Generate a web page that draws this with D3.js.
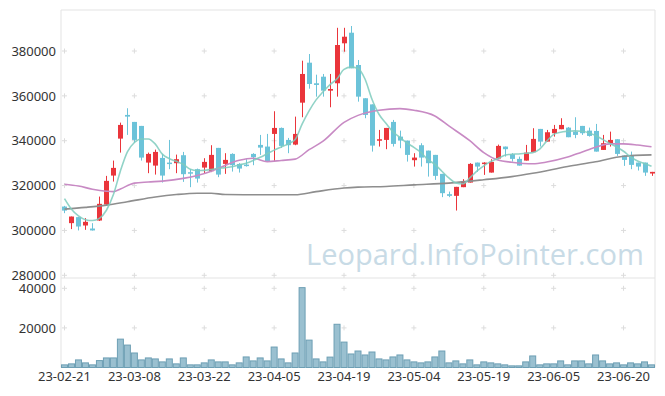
<!DOCTYPE html>
<html>
<head>
<meta charset="utf-8">
<script src="https://cdn.jsdelivr.net/npm/d3@7"></script>
<style>
  body { margin: 0; background: #fff; }
  svg { display: block; }
</style>
</head>
<body>
<div id="chart"></div>
<script>
"use strict";

// trading days (KRX), labels every 10 days
var dates = ["23-02-21","23-02-22","23-02-23","23-02-24","23-02-27","23-02-28","23-03-02","23-03-03","23-03-06","23-03-07",
  "23-03-08","23-03-09","23-03-10","23-03-13","23-03-14","23-03-15","23-03-16","23-03-17","23-03-20","23-03-21",
  "23-03-22","23-03-23","23-03-24","23-03-27","23-03-28","23-03-29","23-03-30","23-03-31","23-04-03","23-04-04",
  "23-04-05","23-04-06","23-04-07","23-04-10","23-04-11","23-04-12","23-04-13","23-04-14","23-04-17","23-04-18",
  "23-04-19","23-04-20","23-04-21","23-04-24","23-04-25","23-04-26","23-04-27","23-04-28","23-05-02","23-05-03",
  "23-05-04","23-05-08","23-05-09","23-05-10","23-05-11","23-05-12","23-05-15","23-05-16","23-05-17","23-05-18",
  "23-05-19","23-05-22","23-05-23","23-05-24","23-05-25","23-05-26","23-05-30","23-05-31","23-06-01","23-06-02",
  "23-06-05","23-06-07","23-06-08","23-06-09","23-06-12","23-06-13","23-06-14","23-06-15","23-06-16","23-06-19",
  "23-06-20","23-06-21","23-06-22","23-06-23","23-06-26"];

var opens  = [310650,303250,305930,302200,300850,304420,311540,324460,340940,351500,
  348380,346600,330250,328910,332340,330250,329980,333540,325970,327310,
  328020,326420,336800,329670,334120,329640,329350,334120,338130,337390,
  343030,345700,340360,338270,356970,374790,365610,368550,362320,365610,
  383430,388150,373760,358930,356200,340060,340360,348380,341830,340060,
  331320,338000,335590,333680,325220,316170,315420,319290,321340,330250,
  329800,325800,332040,337390,334000,331900,331140,334880,345260,339600,
  343340,345120,345840,344050,346600,344500,344360,335900,338890,340660,
  333390,333680,330250,330250,325370];
var highs  = [310950,306200,306000,305480,303250,315100,324320,331140,348070,354480,
  348380,346600,334700,336040,334120,340360,333810,335010,327310,327580,
  332210,338000,336800,334440,334400,330000,331760,334440,342590,343040,
  353140,345900,341250,350740,375680,378660,369440,369760,369760,390340,
  390340,391140,375990,358930,356200,344810,345700,349270,344500,340060,
  334440,338890,335590,333680,325220,317330,319430,322860,330000,330250,
  330400,331760,338270,337390,334440,332920,338130,345570,345260,344810,
  347040,350020,346130,350470,346600,345840,347490,342590,344050,340660,
  333390,335150,330250,330250,326110];
var lows   = [307700,300600,300000,300270,299960,304200,311300,321790,334700,342590,
  339160,331140,325530,324900,321340,327310,325530,321650,319290,321340,
  325530,326000,323750,325220,326240,325800,328470,329090,333680,330870,
  330870,336800,334440,338000,350470,363210,359650,359650,354920,359650,
  379690,372290,357420,350020,335150,337390,336220,337390,336670,330700,
  328470,328470,324000,322550,314840,314840,308870,319290,321340,326110,
  324770,325800,331760,332920,330700,328910,331140,334880,337390,339600,
  341830,345120,341560,341120,342590,341830,335150,335900,337390,333240,
  328780,327310,326710,324330,324330];
var closes = [308850,306200,301750,303840,300000,311860,322100,327890,347040,350740,
  340360,332480,334120,335010,324460,329650,331760,325080,325530,323120,
  330560,333680,324900,331450,329090,327580,328910,332650,336930,330870,
  345700,337690,338000,343030,369760,365300,364860,362320,363070,382670,
  386370,372290,359650,351500,337820,340660,345700,338580,340060,333680,
  332480,332480,329980,324330,316620,315420,319430,321650,329670,328470,
  330250,330560,337690,336220,331900,328910,334700,340810,339600,343780,
  345260,347040,341560,342590,343340,342140,335150,338890,340360,334120,
  331450,329230,328470,325800,326110];
var volumes = [1330,1830,3830,2330,1330,3500,4830,4830,14330,11330,
  7330,3830,4830,4330,2830,4330,1830,4830,1330,1330,
  2330,3830,2830,2830,1330,2330,5330,3330,4830,3330,
  10330,4330,2330,7330,40330,13830,4330,2830,5250,21830,
  12830,6830,8330,6330,7830,4330,3830,5330,6330,3830,
  2830,2330,2830,5330,8330,2330,3330,1830,3830,1330,
  2830,2330,1830,1330,830,830,2830,5830,1330,1830,
  1830,3330,1330,3330,3330,1830,6330,3330,1830,2330,
  1330,2330,1830,2830,1330];

// moving averages: [day index, value]
var maShort = [[0,314200],[1,309500],[2,306500],[3,304800],[4,304400],[5,305400],[6,309000],[7,316000],[8,326500],[9,335000],
  [10,339200],[11,340800],[12,340800],[13,338500],[14,334000],[15,332000],[16,330800],[17,329500],[18,327300],[19,326700],
  [20,326800],[21,327200],[22,327700],[23,328000],[24,328400],[25,329200],[26,330000],[27,331200],[28,332600],[29,334200],
  [30,335800],[31,337200],[32,338600],[33,340500],[34,347400],[35,353300],[36,358200],[37,361800],[38,365000],[39,367600],
  [40,371800],[41,372800],[42,372200],[43,367500],[44,358500],[45,351800],[46,347800],[47,344000],[48,341500],[49,339000],
  [50,337000],[51,334800],[52,331600],[53,329500],[54,326400],[55,323400],[56,321200],[57,320800],[58,323400],[59,326400],
  [60,328800],[61,330700],[62,332000],[63,333500],[64,334000],[65,334100],[66,334400],[67,334700],[68,336300],[69,339800],
  [70,342800],[71,343800],[72,344200],[73,344400],[74,344200],[75,343600],[76,342300],[77,340600],[78,338800],[79,337200],
  [80,335300],[81,332800],[82,331000],[83,329800],[84,328600]];
var maMid = [[0,320600],[2,319800],[4,318400],[6,317500],[7,317300],[8,318500],[10,321100],[12,321600],[14,322000],[17,323200],
  [19,324500],[21,326400],[22,327700],[25,331300],[27,332200],[29,330700],[31,331200],[33,331800],[35,336000],[37,339800],
  [40,348200],[42,351300],[45,353600],[48,354300],[50,353600],[53,351000],[55,346600],[58,340000],[60,334700],[62,331400],
  [64,330400],[67,329700],[69,330500],[72,332700],[74,334900],[76,337100],[78,338600],[80,338600],[82,338100],[84,337300]];
var maLong = [[0,309500],[3,310300],[6,311300],[9,312800],[13,314900],[16,316000],[19,316600],[21,316600],[23,316000],[29,315900],
  [33,315900],[36,317300],[40,318900],[42,319300],[46,319600],[50,320300],[55,321100],[60,322600],[64,324000],[67,325500],
  [72,328500],[76,330600],[80,333100],[84,333700]];

var priceTicks = [280000, 300000, 320000, 340000, 360000, 380000];
var volumeTicks = [20000, 40000];
var dateTicks = dates.filter((d, i) => i % 10 === 0);

var W = 665, H = 396;
var left = 61, right = 655;
var priceTop = 10, priceBottom = 278, volBottom = 367.5;

var svg = d3.select("#chart").append("svg")
    .attr("width", W).attr("height", H)
    .style("font-family", "'Noto Sans', sans-serif");

var x = d3.scaleBand().domain(dates).range([left, right]).padding(0);
var bw = x.bandwidth();
var cx = d => x(d) + bw / 2;
var y = d3.scaleLinear().domain([280000, 380000]).range([275.3, 51]);
var yv = d3.scaleLinear().domain([0, 40000]).range([volBottom, 288.3]);

// frame
var frame = svg.append("g").attr("stroke", "#e3e3e3").attr("fill", "none");
frame.append("path").attr("d", `M${left},${volBottom}V${priceTop}H${right}V${volBottom}`);
frame.append("line").attr("x1", left).attr("x2", right).attr("y1", priceBottom).attr("y2", priceBottom);

// grid crosses
var cross = svg.append("g").attr("stroke", "#dcdcdc").attr("stroke-width", 1);
dateTicks.forEach(function(d) {
  priceTicks.forEach(function(p) {
    cross.append("path").attr("d", `M${cx(d) - 2.5},${y(p)}h5M${cx(d)},${y(p) - 2.5}v5`);
  });
  volumeTicks.forEach(function(v) {
    cross.append("path").attr("d", `M${cx(d) - 2.5},${yv(v)}h5M${cx(d)},${yv(v) - 2.5}v5`);
  });
});

// watermark
var wm = svg.append("text")
    .attr("x", 306).attr("y", 265)
    .attr("fill", "#c8dbe6")
    .style("font-family", "'Open Sans', sans-serif")
    .style("font-size", "34px")
    .text("Leopard.InfoPointer.com");
var wmLen = wm.node().getComputedTextLength();
wm.style("font-size", (34 * 338 / wmLen) + "px");

// y axes
var yAxis = d3.axisLeft(y).tickValues(priceTicks).tickSize(0).tickPadding(5).tickFormat(d3.format("d"));
var yvAxis = d3.axisLeft(yv).tickValues(volumeTicks).tickSize(0).tickPadding(5).tickFormat(d3.format("d"));
var xAxis = d3.axisBottom(x).tickValues(dateTicks).tickSize(0).tickPadding(4);

[svg.append("g").attr("transform", `translate(${left},0)`).call(yAxis),
 svg.append("g").attr("transform", `translate(${left},0)`).call(yvAxis),
 svg.append("g").attr("transform", `translate(0,${volBottom})`).call(xAxis)]
  .forEach(function(g) {
    g.select(".domain").remove();
    g.selectAll("text").attr("fill", "#333").style("font-size", "13px").style("font-family", "'Noto Sans', sans-serif");
  });

// volume bars
svg.append("g").selectAll("rect").data(dates)
  .join("rect")
    .attr("x", d => x(d) + 0.5)
    .attr("y", (d, i) => yv(volumes[i]))
    .attr("width", bw - 1)
    .attr("height", (d, i) => yv(0) - yv(volumes[i]))
    .attr("fill", "#9ac0d0")
    .attr("stroke", "#6d9fb4")
    .attr("stroke-width", 1);

// moving average lines
var maLine = d3.line()
    .x(d => cx(dates[d[0]]))
    .y(d => y(d[1]))
    .curve(d3.curveMonotoneX);

var lines = svg.append("g").attr("fill", "none");
lines.append("path").datum(maLong).attr("d", maLine).attr("stroke", "#8e8e8e").attr("stroke-width", 1.6);
lines.append("path").datum(maMid).attr("d", maLine).attr("stroke", "#c88ac4").attr("stroke-width", 1.6);

// candles
var up = "#ea353b", down = "#6cc3d9";
var candles = svg.append("g").selectAll("g").data(dates).join("g");
candles.append("line")
    .attr("x1", d => Math.round(cx(d)) + 0.5)
    .attr("x2", d => Math.round(cx(d)) + 0.5)
    .attr("y1", (d, i) => y(highs[i]))
    .attr("y2", (d, i) => y(lows[i]))
    .attr("stroke", (d, i) => closes[i] >= opens[i] ? up : down)
    .attr("stroke-width", 1);
candles.append("rect")
    .attr("x", d => Math.round(cx(d)) - 2)
    .attr("width", 5)
    .attr("y", (d, i) => y(Math.max(opens[i], closes[i])))
    .attr("height", (d, i) => Math.max(1.5, Math.abs(y(opens[i]) - y(closes[i]))))
    .attr("fill", (d, i) => closes[i] >= opens[i] ? up : down);

lines.raise();
lines.append("path").datum(maShort).attr("d", maLine)
    .attr("stroke", "#7ecbbd").attr("stroke-opacity", 0.85).attr("stroke-width", 1.6);
</script>
</body>
</html>
